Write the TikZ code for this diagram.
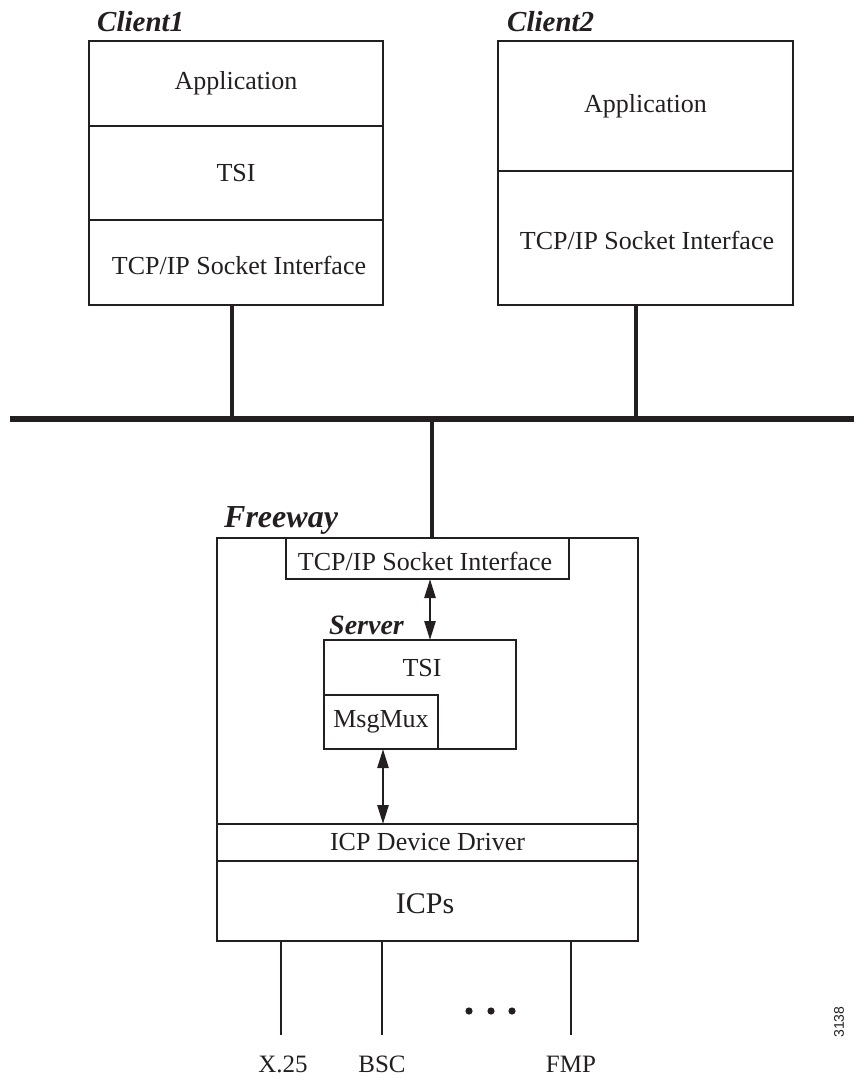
\documentclass[tikz,border=0pt]{standalone}
\usepackage{fontspec}
\setmainfont{Liberation Serif}
\newfontfamily\labelsans{Liberation Sans}
\usetikzlibrary{arrows.meta}
\definecolor{ink}{HTML}{231F20}
\begin{document}
\begin{tikzpicture}[x=1pt,y=-1pt,
  layer/.style={draw=ink,line width=1.4pt,rectangle,inner sep=0pt,outer sep=0pt,text=ink,
    font=\fontsize{26}{30}\selectfont},
  title/.style={anchor=base west,inner sep=0pt,text=ink,font=\fontsize{29}{33}\selectfont\bfseries\itshape},
  txt/.style={inner sep=0pt,text=ink,font=\fontsize{26}{30}\selectfont},
  thick link/.style={draw=ink,line width=4.5pt},
  bus/.style={draw=ink,line width=6pt},
  dbl/.style={draw=ink,line width=2.6pt,{Triangle[length=19pt,width=11pt]}-{Triangle[length=19pt,width=11pt]}},
  port/.style={draw=ink,line width=2.6pt}
]
\useasboundingbox (0,0) rectangle (854,1078);

% Client1
\node[title] (c1lab) at (97,32) {Client1};
\node[layer,minimum width=294pt,minimum height=85pt] (app1) at (236,83.5) {};
\node[txt] at (app1.center) {Application};
\node[layer,minimum width=294pt,minimum height=94pt] (tsi1) at (236,173) {TSI};
\node[layer,minimum width=294pt,minimum height=85pt] (tcp1) at (236,262.5) {};
\node[txt] at (239,265) {TCP/IP Socket Interface};

% Client2
\node[title] (c2lab) at (507,32) {Client2};
\node[layer,minimum width=295pt,minimum height=130pt] (app2) at (645.5,106) {Application};
\node[layer,minimum width=295pt,minimum height=134pt] (tcp2) at (645.5,238) {};
\node[txt] at (647,240) {TCP/IP Socket Interface};

% bus
\coordinate (busL) at (10,419);
\coordinate (busR) at (854,419);
\coordinate (b1) at (232,419);
\coordinate (b2) at (636,419);
\coordinate (b3) at (432,419);
\draw[bus] (busL) -- (busR);
\draw[thick link] (tcp1.south -| b1) -- (b1);
\draw[thick link] (tcp2.south -| b2) -- (b2);

% Freeway
\node[title,font=\fontsize{32}{36}\selectfont\bfseries\itshape] (fwlab) at (224,527) {Freeway};
\node[layer,minimum width=421pt,minimum height=403pt] (fw) at (427.5,739.5) {};
\draw[thick link] (b3) -- (fw.north -| b3);
\node[layer,minimum width=283pt,minimum height=41pt] (tcps) at (427.5,558.5) {};
\node[txt] at (425,561) {TCP/IP Socket Interface};

\node[title,font=\fontsize{28}{32}\selectfont\bfseries\itshape] (svlab) at (329,634) {Server};
\node[layer,minimum width=192pt,minimum height=109pt] (server) at (420,694.5) {};
\node[txt] (tsis) at (422,668) {TSI};
\node[layer,minimum width=114pt,minimum height=54pt] (mux) at (381,722) {MsgMux};

\node[layer,minimum width=421pt,minimum height=37pt] (drv) at (427.5,842.5) {ICP Device Driver};
\node[layer,minimum width=421pt,minimum height=80pt] (icps) at (427.5,901) {};
\node[txt,font=\fontsize{30}{34}\selectfont] at (425,904) {ICPs};

\coordinate (a1) at (430,0);
\coordinate (a2) at (383,0);
\draw[dbl] (tcps.south -| a1) -- (server.north -| a1);
\draw[dbl] (mux.south -| a2) -- (drv.north -| a2);

% ports
\node[txt,anchor=base,font=\fontsize{25}{29}\selectfont] (x25) at (283,1072) {X.25};
\node[txt,anchor=base,font=\fontsize{25}{29}\selectfont] (bsc) at (382,1072) {BSC};
\node[txt,anchor=base,font=\fontsize{25}{29}\selectfont] (fmp) at (571,1072) {FMP};
\coordinate (e1) at (281,1035);
\coordinate (e2) at (382,1035);
\coordinate (e3) at (571,1035);
\draw[port] (icps.south -| e1) -- (e1);
\draw[port] (icps.south -| e2) -- (e2);
\draw[port] (icps.south -| e3) -- (e3);
\fill[ink] (469,1011) circle (3.6pt) (491,1011) circle (3.6pt) (512,1011) circle (3.6pt);

\node[inner sep=0pt,rotate=90,text=ink,font=\labelsans\fontsize{14}{16}\selectfont] (num) at (839,1022) {3138};
\end{tikzpicture}
\end{document}
